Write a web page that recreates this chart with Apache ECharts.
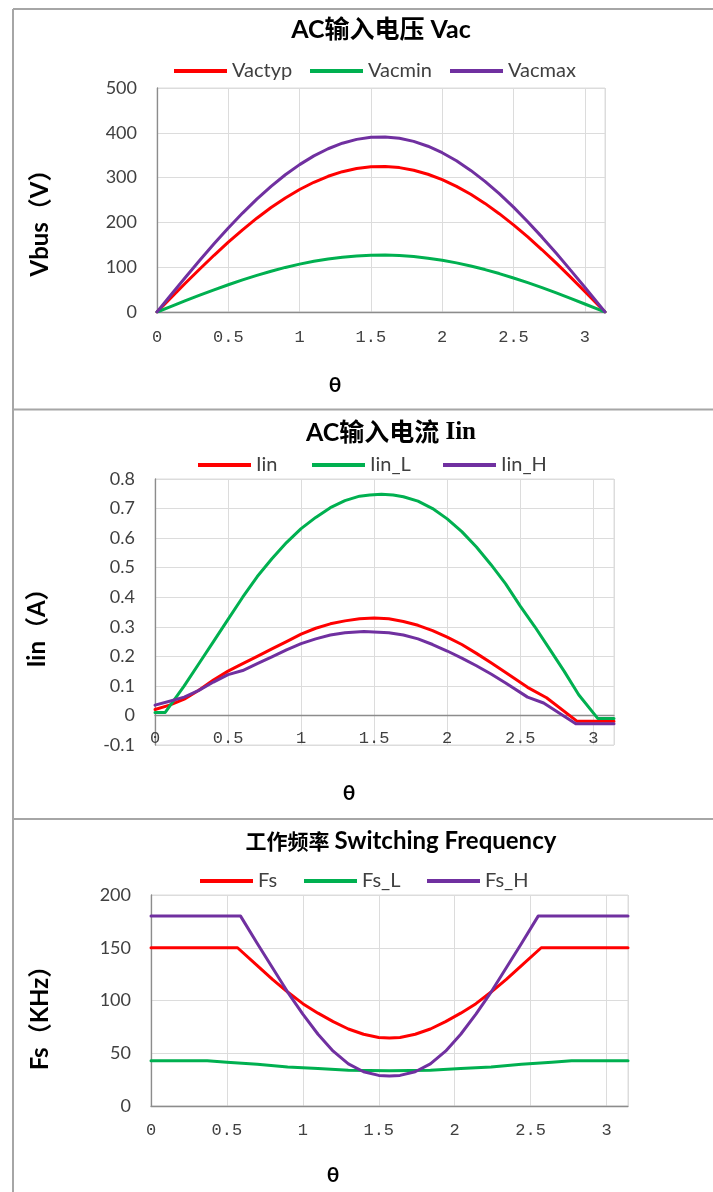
<!DOCTYPE html>
<html>
<head>
<meta charset="utf-8">
<script src="https://cdn.jsdelivr.net/npm/echarts@6/dist/echarts.min.js"></script>
<style>
html,body{margin:0;padding:0;background:#fff;}
#chart{width:713px;height:1192px;}
</style>
</head>
<body>
<div id="chart"></div>
<script>
// ---------- Panel 1: AC input voltage ----------
const thetaVac = [0,0.1,0.2,0.3,0.4,0.5,0.6,0.7,0.8,0.9,1.0,1.1,1.2,1.3,1.4,1.5,1.6,1.7,1.8,1.9,2.0,2.1,2.2,2.3,2.4,2.5,2.6,2.7,2.8,2.9,3.0,3.1,3.1416];
const vactyp  = [0,32.4,64.6,96,126.6,155.8,183.5,209.4,233.2,254.6,273.5,289.6,302.9,313.2,320.3,324.2,324.9,322.3,316.5,307.5,295.5,280.5,262.8,242.4,219.5,194.5,167.5,138.9,108.9,77.7,45.9,13.5,0];
const vacmin  = [0,12.7,25.2,37.5,49.5,60.9,71.7,81.8,91.1,99.5,106.9,113.2,118.4,122.4,125.1,126.7,127,125.9,123.7,120.2,115.5,109.6,102.7,94.7,85.8,76,65.5,54.3,42.5,30.4,17.9,5.3,0];
const vacmax  = [0,39,77.7,115.6,152.3,187.5,220.8,251.9,280.5,306.3,329,348.5,364.4,376.8,385.3,390,390.8,387.8,380.8,370,355.5,337.5,316.1,291.6,264.1,234,201.6,167.1,131,93.5,55.2,16.3,0];

// ---------- Panel 2: AC input current ----------
const thetaIin = [0,0.1,0.2,0.3,0.4,0.5,0.58,0.7,0.8,0.9,1.0,1.1,1.2,1.3,1.4,1.5,1.6,1.7,1.8,1.9,2.0,2.1,2.2,2.3,2.4,2.55,2.68,2.89,3.1416];
const iin      = [0.02,0.035,0.055,0.085,0.12,0.15,0.17,0.20,0.225,0.25,0.275,0.295,0.31,0.32,0.327,0.33,0.327,0.318,0.305,0.287,0.265,0.24,0.21,0.178,0.145,0.095,0.06,-0.02,-0.02];
const thetaIinL = [0,0.07,0.2,0.3,0.4,0.5,0.6,0.7,0.8,0.9,1.0,1.1,1.2,1.3,1.4,1.47,1.55,1.63,1.7,1.8,1.9,2.0,2.1,2.2,2.3,2.4,2.5,2.6,2.7,2.8,2.9,3.03,3.1416];
const iinL      = [0.01,0.01,0.10,0.175,0.25,0.325,0.40,0.47,0.53,0.585,0.632,0.67,0.703,0.727,0.742,0.746,0.748,0.746,0.74,0.725,0.70,0.665,0.622,0.57,0.51,0.445,0.37,0.30,0.225,0.15,0.07,-0.01,-0.01];
const thetaIinH = [0,0.1,0.2,0.3,0.4,0.5,0.6,0.7,0.8,0.9,1.0,1.1,1.2,1.3,1.43,1.6,1.7,1.8,1.9,2.0,2.1,2.2,2.3,2.4,2.55,2.66,2.88,3.1416];
const iinH      = [0.035,0.048,0.062,0.085,0.113,0.138,0.152,0.175,0.198,0.222,0.243,0.259,0.272,0.28,0.284,0.28,0.272,0.259,0.24,0.218,0.194,0.168,0.14,0.11,0.062,0.042,-0.028,-0.028];

// ---------- Panel 3: switching frequency ----------
const thetaFs = [0,0.57,0.7,0.8,0.9,1.0,1.1,1.2,1.3,1.4,1.5,1.57,1.64,1.74,1.84,1.94,2.04,2.14,2.24,2.34,2.44,2.57,3.1416];
const fs      = [150,150,133,120,108,97,88,80,73,68,65,64.5,65,68,73,80,88,97,108,120,133,150,150];
const thetaFsL = [0,0.37,0.5,0.7,0.9,1.1,1.3,1.57,1.84,2.04,2.24,2.44,2.64,2.77,3.1416];
const fsL      = [43,43,41.5,39.5,37,35.5,34,33.5,34,35.5,37,39.5,41.5,43,43];
const thetaFsH = [0,0.59,0.7,0.8,0.9,1.0,1.1,1.2,1.3,1.4,1.5,1.57,1.64,1.74,1.84,1.94,2.04,2.14,2.24,2.34,2.44,2.55,3.1416];
const fsH      = [180,180,154,131,108,87,68,52,40,32.5,29,28.5,29,32.5,40,52,68,87,108,131,154,180,180];

const xTickLabels = ['0','0.5','1','1.5','2','2.5','3'];

const RED = '#FF0000', GREEN = '#00B050', PURPLE = '#7030A0';
const pairs = (xs, ys) => xs.map((x, i) => [x, ys[i]]);

const chart = echarts.init(document.getElementById('chart'), null, {renderer: 'canvas'});

const grids = [
  {left:157, top:88, width:448, height:224},
  {left:155, top:479, width:459, height:266},
  {left:151, top:895, width:477, height:211}
];
const xMargins = [17, -15, 16];

function xAxis(i){
  return {
    type:'value', gridIndex:i, min:0, max:3.1416, interval:0.5,
    axisTick:{show:false},
    axisLine:{onZero:true, lineStyle:{color:'#8c8c8c', width:1.3}},
    axisLabel:{
      margin:xMargins[i], fontFamily:'Liberation Mono', fontSize:17, color:'#404040',
      formatter: v => { const k = Math.round(v*2); return Math.abs(v*2-k) < 1e-6 ? (xTickLabels[k] || '') : ''; }
    },
    splitLine:{show:true, lineStyle:{color:'#dcdcdc', width:1}}
  };
}
function yAxis(i, min, max, interval){
  return {
    type:'value', gridIndex:i, min:min, max:max, interval:interval,
    axisTick:{show:false},
    axisLine:{show:true, onZero:false, lineStyle:{color:'#8c8c8c', width:1.3}},
    axisLabel:{margin:20, fontFamily:'Lato', fontSize:18, color:'#404040'},
    splitLine:{show:true, lineStyle:{color:'#dcdcdc', width:1}}
  };
}
function line(name, color, data, xi){
  return {
    name:name, type:'line', xAxisIndex:xi, yAxisIndex:xi, data:data,
    showSymbol:false, smooth:false, lineStyle:{color:color, width:3, join:'round', cap:'round'}, itemStyle:{color:color},
    animation:false
  };
}
function leg(name, left, top){
  return {
    data:[name], left:left, top:top, icon:'rect', itemWidth:53, itemHeight:4, itemGap:0, padding:0,
    textStyle:{fontFamily:'Lato', fontSize:20, color:'#404040'}, selectedMode:false
  };
}

const titleFont = 'Lato, "Noto Sans CJK SC", sans-serif';
function txt(x, y, text, size, rot){
  return {
    type:'text', x:x, y:y, rotation: rot || 0,
    style:{text:text, fontFamily:titleFont, fontSize:size, fontWeight:'bold', fill:'#000',
      textAlign:'center', textVerticalAlign:'middle'}
  };
}

const borderColor = '#a6a6a6';
chart.setOption({
  animation:false,
  grid: grids.map(g => Object.assign({show:true, borderColor:'#dcdcdc', borderWidth:1, containLabel:false}, g)),
  xAxis:[xAxis(0), xAxis(1), xAxis(2)],
  yAxis:[yAxis(0,0,500,100), yAxis(1,-0.1,0.8,0.1), yAxis(2,0,200,50)],
  legend:[
    leg('Vactyp',174,61), leg('Vacmin',310,61), leg('Vacmax',450,61),
    leg('Iin',198,455), leg('Iin_L',312,455), leg('Iin_H',443,455),
    leg('Fs',200,871), leg('Fs_L',304,871), leg('Fs_H',427,871)
  ],
  series:[
    line('Vactyp', RED, pairs(thetaVac, vactyp), 0),
    line('Vacmin', GREEN, pairs(thetaVac, vacmin), 0),
    line('Vacmax', PURPLE, pairs(thetaVac, vacmax), 0),
    line('Iin', RED, pairs(thetaIin, iin), 1),
    line('Iin_L', GREEN, pairs(thetaIinL, iinL), 1),
    line('Iin_H', PURPLE, pairs(thetaIinH, iinH), 1),
    line('Fs', RED, pairs(thetaFs, fs), 2),
    line('Fs_L', GREEN, pairs(thetaFsL, fsL), 2),
    line('Fs_H', PURPLE, pairs(thetaFsH, fsH), 2)
  ],
  graphic:[
    {type:'line', shape:{x1:13, y1:9, x2:713, y2:9}, style:{stroke:borderColor, lineWidth:2}},
    {type:'line', shape:{x1:13, y1:9, x2:13, y2:1192}, style:{stroke:borderColor, lineWidth:2}},
    {type:'line', shape:{x1:13, y1:409.5, x2:713, y2:409.5}, style:{stroke:borderColor, lineWidth:2}},
    {type:'line', shape:{x1:13, y1:819, x2:713, y2:819}, style:{stroke:borderColor, lineWidth:2}},
    txt(381, 30, 'AC输入电压 Vac', 25),
    {type:'text', x:391, y:433, style:{
      text:'{a|AC输入电流 }{b|Iin}', textAlign:'center', textVerticalAlign:'middle',
      rich:{a:{fontFamily:titleFont, fontSize:25, fontWeight:'bold', fill:'#000'},
            b:{fontFamily:'Liberation Serif', fontSize:25, fontWeight:'bold', fill:'#000'}}}},
    {type:'text', x:401, y:841, style:{
      text:'{a|工作频率 }{b|Switching Frequency}', textAlign:'center', textVerticalAlign:'middle',
      rich:{a:{fontFamily:'"Noto Sans CJK SC"', fontSize:21, fontWeight:'bold', fill:'#000'},
            b:{fontFamily:'Lato', fontSize:24, fontWeight:'bold', fill:'#000'}}}},
    txt(40, 217, 'Vbus（V）', 24, Math.PI/2),
    txt(37, 622, 'Iin（A）', 24, Math.PI/2),
    txt(40, 1012, 'Fs（KHz）', 24, Math.PI/2),
    txt(335, 385, 'θ', 21),
    txt(349, 793, 'θ', 21),
    txt(333, 1175, 'θ', 21)
  ]
});
</script>
</body>
</html>
